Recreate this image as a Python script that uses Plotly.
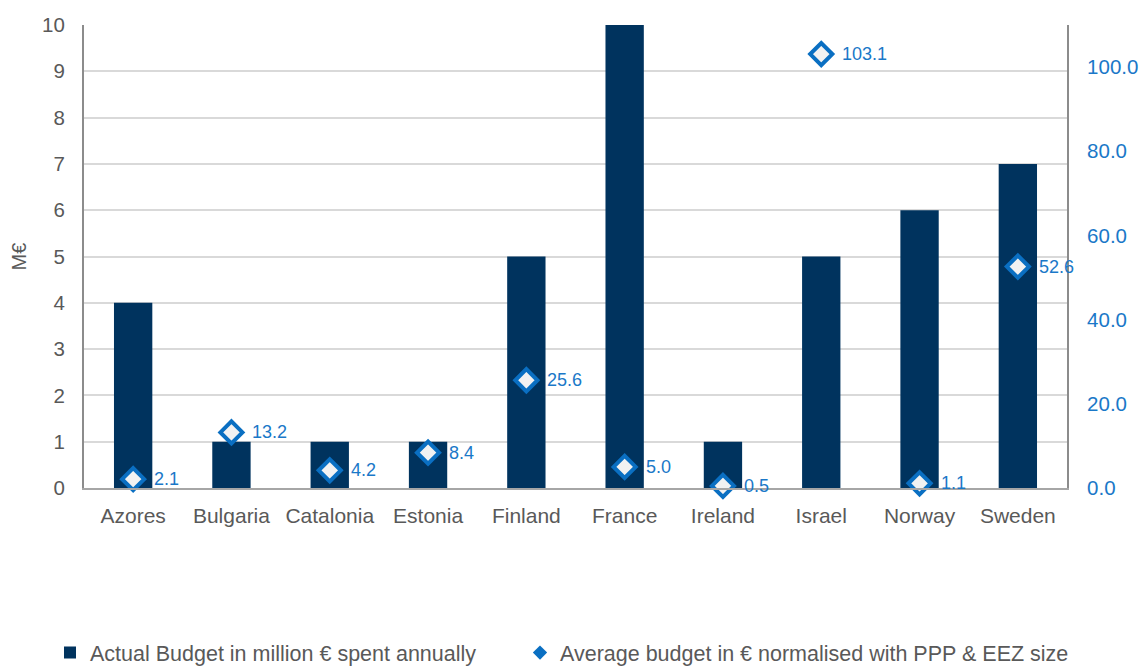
import plotly.graph_objects as go

# Data
countries = ["Azores", "Bulgaria", "Catalonia", "Estonia", "Finland",
             "France", "Ireland", "Israel", "Norway", "Sweden"]
actual_budget_meur = [4, 1, 1, 1, 5, 10, 1, 5, 6, 7]
normalised_budget = [2.1, 13.2, 4.2, 8.4, 25.6, 5.0, 0.5, 103.1, 1.1, 52.6]

NAVY = "#00335e"
BLUE = "#1a78c8"
DIAMOND_EDGE = "#0a6fc2"
GREY_TXT = "#595959"
FONT = "Liberation Sans, Arial, sans-serif"

fig = go.Figure()

fig.add_trace(go.Bar(
    x=countries, y=actual_budget_meur,
    name="Actual Budget in million € spent annually",
    marker=dict(color=NAVY, line=dict(width=0)),
    width=0.39,
    yaxis="y",
    legend="legend",
))

fig.add_trace(go.Scatter(
    x=countries, y=normalised_budget,
    mode="markers",
    marker=dict(symbol="diamond", size=17, color="#f2f2f2",
                line=dict(color=DIAMOND_EDGE, width=4)),
    yaxis="y2",
    showlegend=False,
    cliponaxis=False,
))

# legend-only entry with a solid diamond
fig.add_trace(go.Scatter(
    x=[None], y=[None], mode="markers",
    name="Average budget in € normalised with PPP & EEZ size",
    marker=dict(symbol="diamond", size=11, color=DIAMOND_EDGE),
    yaxis="y2",
    legend="legend2",
))

# value labels beside the diamonds
for c, v in zip(countries, normalised_budget):
    fig.add_annotation(
        x=c, y=v, xref="x", yref="y2",
        text=f"{v:.1f}", showarrow=False,
        xanchor="left", yanchor="middle", xshift=19,
        font=dict(family=FONT, size=18, color=BLUE),
    )

# left axis title
fig.add_annotation(
    x=0, y=0.5, xref="paper", yref="paper", xshift=-66,
    text="M€", textangle=-90, showarrow=False,
    xanchor="center", yanchor="middle",
    font=dict(family=FONT, size=20, color=GREY_TXT),
)

legend_common = dict(
    orientation="h", xref="container", yref="container",
    y=0.023, xanchor="left", yanchor="middle",
    font=dict(size=21.5, color=GREY_TXT),
    itemwidth=30, bgcolor="rgba(0,0,0,0)",
)

fig.update_layout(
    width=1142, height=668,
    margin=dict(l=84, r=75, t=25, b=180, autoexpand=False),
    plot_bgcolor="white", paper_bgcolor="white",
    font=dict(family=FONT, size=20, color=GREY_TXT),
    xaxis=dict(
        range=[-0.5, len(countries) - 0.5],
        showline=True, linecolor="#a6a6a6", linewidth=1.5,
        showgrid=False, ticks="", automargin=False,
        tickfont=dict(size=21, color=GREY_TXT),
        ticklabelstandoff=8,
    ),
    yaxis=dict(
        range=[0, 10], dtick=1,
        showgrid=True, gridcolor="#d9d9d9", gridwidth=1.5,
        showline=True, linecolor="#8c8c8c", linewidth=2,
        zeroline=False, ticks="", ticklabelstandoff=13,
        automargin=False,
        tickfont=dict(size=20.5, color=GREY_TXT),
    ),
    yaxis2=dict(
        range=[0, 110], dtick=20, tickformat=".1f",
        overlaying="y", side="right",
        showgrid=False, zeroline=False,
        showline=True, linecolor="#8c8c8c", linewidth=2,
        ticks="", ticklabelstandoff=14, automargin=False,
        tickfont=dict(size=20.5, color=BLUE),
    ),
    legend=dict(legend_common, x=50 / 1142),
    legend2=dict(legend_common, x=520 / 1142),
    showlegend=True,
)

fig.write_html("out.html")
